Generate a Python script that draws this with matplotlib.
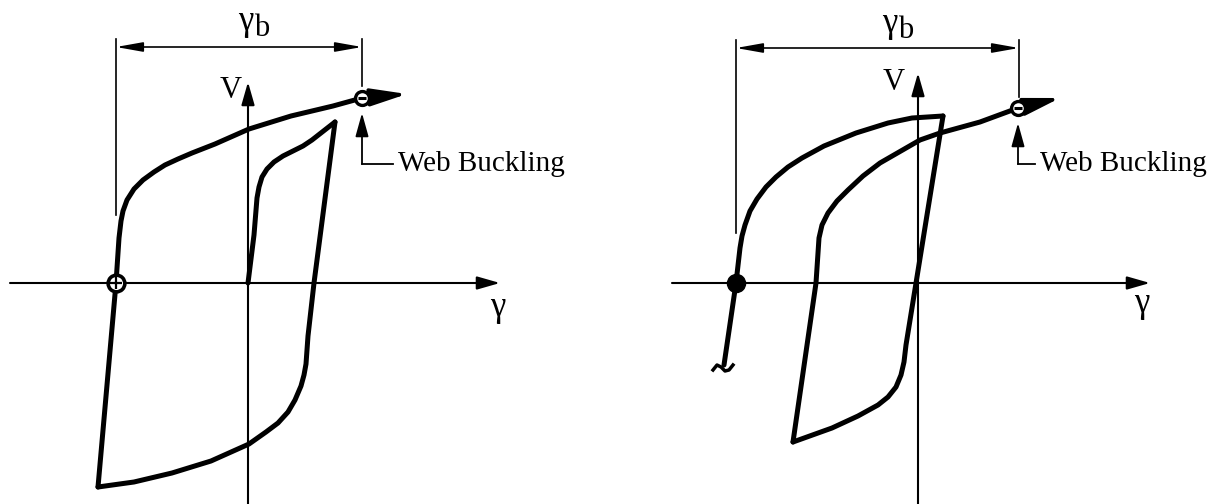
import matplotlib
matplotlib.use('Agg')
import matplotlib.pyplot as plt

plt.rcParams['font.family'] = ['Liberation Serif', 'DejaVu Serif']

# ---------------- Left panel data (gamma, V), arbitrary units ----------------
L_inner_g = [0.00, 0.06, 0.09, 0.11, 0.14, 0.19, 0.26, 0.35, 0.45, 0.55, 0.64, 0.87]
L_inner_v = [0.00, 0.48, 0.85, 0.96, 1.06, 1.14, 1.21, 1.27, 1.32, 1.37, 1.43, 1.61]

L_down_g = [0.87, 0.66, 0.60, 0.58, 0.56, 0.53, 0.47, 0.40, 0.30, 0.18, 0.01, -0.37, -0.76, -1.14, -1.50]
L_down_v = [1.61, 0.00, -0.53, -0.81, -0.92, -1.03, -1.17, -1.29, -1.40, -1.49, -1.61, -1.78, -1.90, -1.99, -2.04]

L_up_g = [-1.50, -1.32, -1.29, -1.27, -1.25, -1.21, -1.14, -1.05, -0.94, -0.83, -0.70, -0.56, -0.33, 0.01, 0.43, 0.85, 1.14]
L_up_v = [-2.04, 0.00, 0.45, 0.62, 0.72, 0.83, 0.94, 1.03, 1.11, 1.18, 1.24, 1.30, 1.39, 1.54, 1.67, 1.77, 1.85]

L_cross = (-1.32, 0.00)     # marked zero crossing
L_buckle = (1.14, 1.85)     # web buckling point
L_tip = (1.59, 1.89)

# ---------------- Right panel data ----------------
R_a_g = [-1.94, -1.82, -1.78, -1.76, -1.73, -1.68, -1.61, -1.52, -1.42, -1.30, -1.16, -0.94, -0.62, -0.30, -0.06, 0.25]
R_a_v = [-0.82, 0.00, 0.35, 0.47, 0.58, 0.72, 0.84, 0.96, 1.06, 1.16, 1.25, 1.37, 1.50, 1.60, 1.65, 1.67]

R_b_g = [0.25, -0.12, -0.14, -0.17, -0.22, -0.30, -0.40, -0.60, -0.86, -1.25]
R_b_v = [1.67, -0.62, -0.79, -0.92, -1.04, -1.14, -1.22, -1.33, -1.45, -1.59]

R_c_g = [-1.25, -1.02, -0.99, -0.96, -0.90, -0.81, -0.70, -0.55, -0.38, 0.02, 0.22, 0.62, 1.00]
R_c_v = [-1.59, 0.00, 0.45, 0.58, 0.70, 0.82, 0.93, 1.07, 1.20, 1.43, 1.50, 1.61, 1.75]

R_cross = (-1.82, 0.00)
R_buckle = (1.00, 1.75)
R_tip = (1.42, 1.85)

R_tilde_g = [-2.05, -2.01, -1.97, -1.93, -1.89, -1.85]
R_tilde_v = [-0.87, -0.82, -0.84, -0.88, -0.87, -0.82]

# frame geometry (units)
L_lim = dict(x=(-2.48, 3.64), y=(-2.21, 2.83))
R_lim = dict(x=(-3.06, 3.07), y=(-2.21, 2.83))
L_axes = dict(xmin=-2.38, xmax=2.52, ytop=2.01)
R_axes = dict(xmin=-2.46, xmax=2.32, ytop=2.10)
L_dim = dict(x0=-1.32, x1=1.14, y=2.36, top=2.44, left_bot=0.68, right_bot=1.97)
R_dim = dict(x0=-1.82, x1=1.01, y=2.35, top=2.43, left_bot=0.50, right_bot=1.86)

fig = plt.figure(figsize=(12.25, 5.04), dpi=100)
axL = fig.add_axes([0, 0, 612 / 1225, 1])
axR = fig.add_axes([612 / 1225, 0, 613 / 1225, 1])

CURVE_LW = 3.6
THIN = 1.5


def draw_axes(ax, lim, a, vpos, gpos):
    ax.set_xlim(*lim['x'])
    ax.set_ylim(*lim['y'])
    ax.axis('off')
    ybot = lim['y'][0]
    ax.annotate('', xy=(a['xmax'], 0), xytext=(a['xmin'], 0),
                arrowprops=dict(arrowstyle='-|>,head_length=0.7,head_width=0.2',
                                lw=THIN, color='k', mutation_scale=20,
                                shrinkA=0, shrinkB=0))
    ax.annotate('', xy=(0, a['ytop']), xytext=(0, ybot),
                arrowprops=dict(arrowstyle='-|>,head_length=0.7,head_width=0.2',
                                lw=THIN, color='k', mutation_scale=20,
                                shrinkA=0, shrinkB=0))
    ax.text(vpos[0], vpos[1], 'V', fontsize=22, ha='center', va='center')
    ax.text(gpos[0], gpos[1], 'γ', fontsize=25, ha='center', va='center')


def draw_dim(ax, d, lblx):
    ax.plot([d['x0'], d['x0']], [d['left_bot'], d['top']], color='k', lw=1.2)
    ax.plot([d['x1'], d['x1']], [d['right_bot'], d['top']], color='k', lw=1.2)
    ax.annotate('', xy=(d['x0'], d['y']), xytext=(d['x1'], d['y']),
                arrowprops=dict(arrowstyle='<|-|>,head_length=0.9,head_width=0.16',
                                lw=1.2, color='k', mutation_scale=18,
                                shrinkA=0, shrinkB=0))
    ax.text(lblx, d['y'] + 0.25, 'γ', fontsize=25, ha='right', va='center')
    ax.text(lblx + 0.01, d['y'] + 0.18, 'b', fontsize=22, ha='left', va='center')


def draw_buckle(ax, pt, tip, txt_x):
    ax.annotate('', xy=tip, xytext=pt,
                arrowprops=dict(arrowstyle='-|>,head_length=1.0,head_width=0.24',
                                lw=2.6, color='k', mutation_scale=22,
                                shrinkA=0, shrinkB=0), zorder=4)
    ax.plot([pt[0]], [pt[1]], 'o', ms=10, mfc='white', mec='k', mew=2.4, zorder=6)
    ax.plot([pt[0]], [pt[1]], '_', ms=6, mec='k', mew=2.2, zorder=7)
    ly = 1.19
    ax.annotate('', xy=(pt[0], pt[1] - 0.15), xytext=(pt[0], ly),
                arrowprops=dict(arrowstyle='-|>,head_length=0.9,head_width=0.25',
                                lw=1.3, color='k', mutation_scale=16,
                                shrinkA=0, shrinkB=0))
    ax.plot([pt[0], txt_x - 0.05], [ly, ly], color='k', lw=1.3)
    ax.text(txt_x, ly, 'Web Buckling', fontsize=21, ha='left', va='center')


# ---- left ----
draw_axes(axL, L_lim, L_axes, (-0.17, 1.93), (2.50, -0.25))
draw_dim(axL, L_dim, 0.05)
for g, v in [(L_inner_g, L_inner_v), (L_down_g, L_down_v), (L_up_g, L_up_v)]:
    axL.plot(g, v, color='k', lw=CURVE_LW, solid_joinstyle='round',
             solid_capstyle='round', zorder=3)
axL.plot([L_cross[0]], [L_cross[1]], 'o', ms=12, mfc='white', mec='k', mew=2.6, zorder=6)
axL.plot([L_cross[0]], [L_cross[1]], '+', ms=8, mec='k', mew=1.6, zorder=7)
draw_buckle(axL, L_buckle, L_tip, 1.50)

# ---- right ----
draw_axes(axR, R_lim, R_axes, (-0.24, 2.00), (2.24, -0.21))
draw_dim(axR, R_dim, -0.21)
for g, v in [(R_a_g, R_a_v), (R_b_g, R_b_v), (R_c_g, R_c_v)]:
    axR.plot(g, v, color='k', lw=CURVE_LW, solid_joinstyle='round',
             solid_capstyle='round', zorder=3)
axR.plot(R_tilde_g, R_tilde_v, color='k', lw=2.5, zorder=3)
axR.plot([R_cross[0]], [R_cross[1]], 'o', ms=13, mfc='k', mec='k', zorder=6)
draw_buckle(axR, R_buckle, R_tip, 1.22)

fig.savefig('out.png', dpi=100, facecolor='white')
